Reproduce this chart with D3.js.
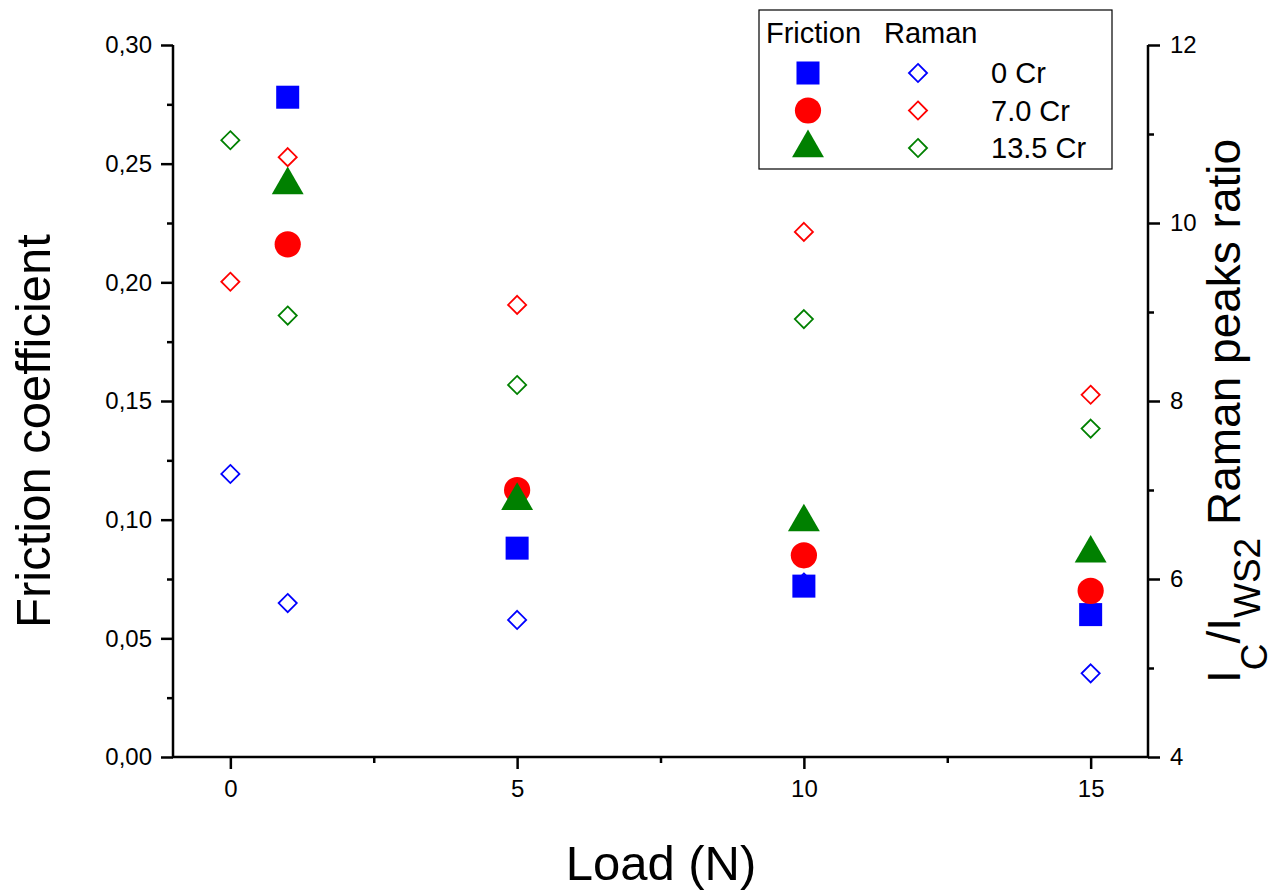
<!DOCTYPE html>
<html>
<head>
<meta charset="utf-8">
<script src="https://cdn.jsdelivr.net/npm/d3@7"></script>
<style>
body{margin:0;background:#fff;}
svg text{font-family:Arial,"Liberation Sans",sans-serif;fill:#000;}
</style>
</head>
<body>
<svg id="chart" width="1275" height="891"></svg>
<script>
// data
var series = ["0 Cr", "7.0 Cr", "13.5 Cr"]
var colors = ["#0000ff", "#ff0000", "#008000"]
var shapes = ["square", "circle", "triangle"]

var frictionLoad = [1, 5, 10, 15]
var friction0 = [0.278, 0.088, 0.072, 0.060]
var friction7 = [0.216, 0.1125, 0.085, 0.070]
var friction13 = [0.241, 0.108, 0.099, 0.0858]

var ramanLoad = [0, 1, 5, 10, 15]
var raman0 = [7.18, 5.73, 5.54, 5.96, 4.94]
var raman7 = [9.34, 10.74, 9.08, 9.90, 8.07]
var raman13 = [10.93, 8.96, 8.18, 8.92, 7.69]

var xTicks = [0, 5, 10, 15]
var xMinor = [2.5, 7.5, 12.5]
var yLeftTicks = [0, 0.05, 0.10, 0.15, 0.20, 0.25, 0.30]
var yLeftMinor = [0.025, 0.075, 0.125, 0.175, 0.225, 0.275]
var yRightTicks = [4, 6, 8, 10, 12]
var yRightMinor = [5, 7, 9, 11]

var frictionData = [friction0, friction7, friction13]
var ramanData = [raman0, raman7, raman13]

var svg = d3.select("#chart")
var L = 173, R = 1148, T = 45, B = 757

var x = d3.scaleLinear().domain([-1, 16]).range([L, R])
var yL = d3.scaleLinear().domain([0, 0.30]).range([B, T])
var yR = d3.scaleLinear().domain([4, 12]).range([B, T])

var comma = function(d){ return d3.format(".2f")(d).replace(".", ",") }

function styleAxis(g){
	g.attr("font-size", null).attr("font-family", null)
	g.select(".domain").remove()
	g.selectAll(".tick line").attr("stroke", "#000").attr("stroke-width", 2.5)
	g.selectAll(".tick text").style("font-size", "24px")
}

// bottom axis
var gx = svg.append("g").attr("transform", "translate(0," + B + ")")
	.call(d3.axisBottom(x).tickValues(xTicks).tickSize(12).tickPadding(11).tickFormat(d3.format("d")))
styleAxis(gx)
var gxm = svg.append("g").attr("transform", "translate(0," + B + ")")
	.call(d3.axisBottom(x).tickValues(xMinor).tickSize(6).tickFormat(""))
styleAxis(gxm)

// left axis
var gl = svg.append("g").attr("transform", "translate(" + L + ",0)")
	.call(d3.axisLeft(yL).tickValues(yLeftTicks).tickSize(12).tickPadding(9).tickFormat(comma))
styleAxis(gl)
var glm = svg.append("g").attr("transform", "translate(" + L + ",0)")
	.call(d3.axisLeft(yL).tickValues(yLeftMinor).tickSize(6).tickFormat(""))
styleAxis(glm)

// right axis
var gr = svg.append("g").attr("transform", "translate(" + R + ",0)")
	.call(d3.axisRight(yR).tickValues(yRightTicks).tickSize(12).tickPadding(10).tickFormat(d3.format("d")))
styleAxis(gr)
var grm = svg.append("g").attr("transform", "translate(" + R + ",0)")
	.call(d3.axisRight(yR).tickValues(yRightMinor).tickSize(6).tickFormat(""))
styleAxis(grm)

// frame lines
svg.append("path")
	.attr("d", "M" + L + "," + T + "V" + B + "H" + R + "V" + T)
	.attr("fill", "none").attr("stroke", "#000").attr("stroke-width", 2.5)

// axis titles
svg.append("text")
	.attr("transform", "translate(50,431) rotate(-90)")
	.attr("text-anchor", "middle").style("font-size", "49px")
	.text("Friction coefficient")

svg.append("text")
	.attr("x", 661).attr("y", 880)
	.attr("text-anchor", "middle").style("font-size", "49px")
	.text("Load (N)")

var rt = svg.append("text")
	.attr("transform", "translate(1240,411) rotate(-90)")
	.attr("text-anchor", "middle").style("font-size", "46px")
rt.append("tspan").text("I")
rt.append("tspan").style("font-size", "37px").attr("dy", 27).text("C")
rt.append("tspan").attr("dy", -27).text("/I")
rt.append("tspan").style("font-size", "37px").attr("dy", 20).text("WS2")
rt.append("tspan").attr("dy", -20).text(" Raman peaks ratio")

// marker helpers
function symbolPath(shape){
	if(shape == "square") return d3.symbol().type(d3.symbolSquare).size(530)()
	if(shape == "circle") return d3.symbol().type(d3.symbolCircle).size(540)()
	return d3.symbol().type(d3.symbolTriangle).size(440)()
}
var diamond = d3.symbol().type(d3.symbolDiamond2).size(210)()

// raman (open diamonds, right axis)
ramanData.forEach(function(vals, i){
	svg.append("g").selectAll("path")
		.data(vals)
		.join("path")
		.attr("d", diamond)
		.attr("transform", function(d, j){ return "translate(" + x(ramanLoad[j]) + "," + yR(d) + ")" })
		.attr("fill", "none")
		.attr("stroke", colors[i])
		.attr("stroke-width", 1.8)
})

// friction (filled, left axis)
frictionData.forEach(function(vals, i){
	svg.append("g").selectAll("path")
		.data(vals)
		.join("path")
		.attr("d", symbolPath(shapes[i]))
		.attr("transform", function(d, j){ return "translate(" + x(frictionLoad[j]) + "," + yL(d) + ")" })
		.attr("fill", colors[i])
})

// legend
var lg = svg.append("g")
lg.append("rect")
	.attr("x", 759).attr("y", 10).attr("width", 353).attr("height", 159)
	.attr("fill", "#fff").attr("stroke", "#000").attr("stroke-width", 1.2)
lg.append("text").attr("x", 766).attr("y", 43).style("font-size", "29px").text("Friction")
lg.append("text").attr("x", 884).attr("y", 43).style("font-size", "29px").text("Raman")
series.forEach(function(name, i){
	var yy = 73 + i * 37.5
	lg.append("path").attr("d", symbolPath(shapes[i]))
		.attr("transform", "translate(808," + yy + ")")
		.attr("fill", colors[i])
	lg.append("path").attr("d", diamond)
		.attr("transform", "translate(918," + yy + ")")
		.attr("fill", "none").attr("stroke", colors[i]).attr("stroke-width", 1.8)
	lg.append("text").attr("x", 991).attr("y", yy + 10)
		.style("font-size", "29px").text(name)
})
</script>
</body>
</html>
